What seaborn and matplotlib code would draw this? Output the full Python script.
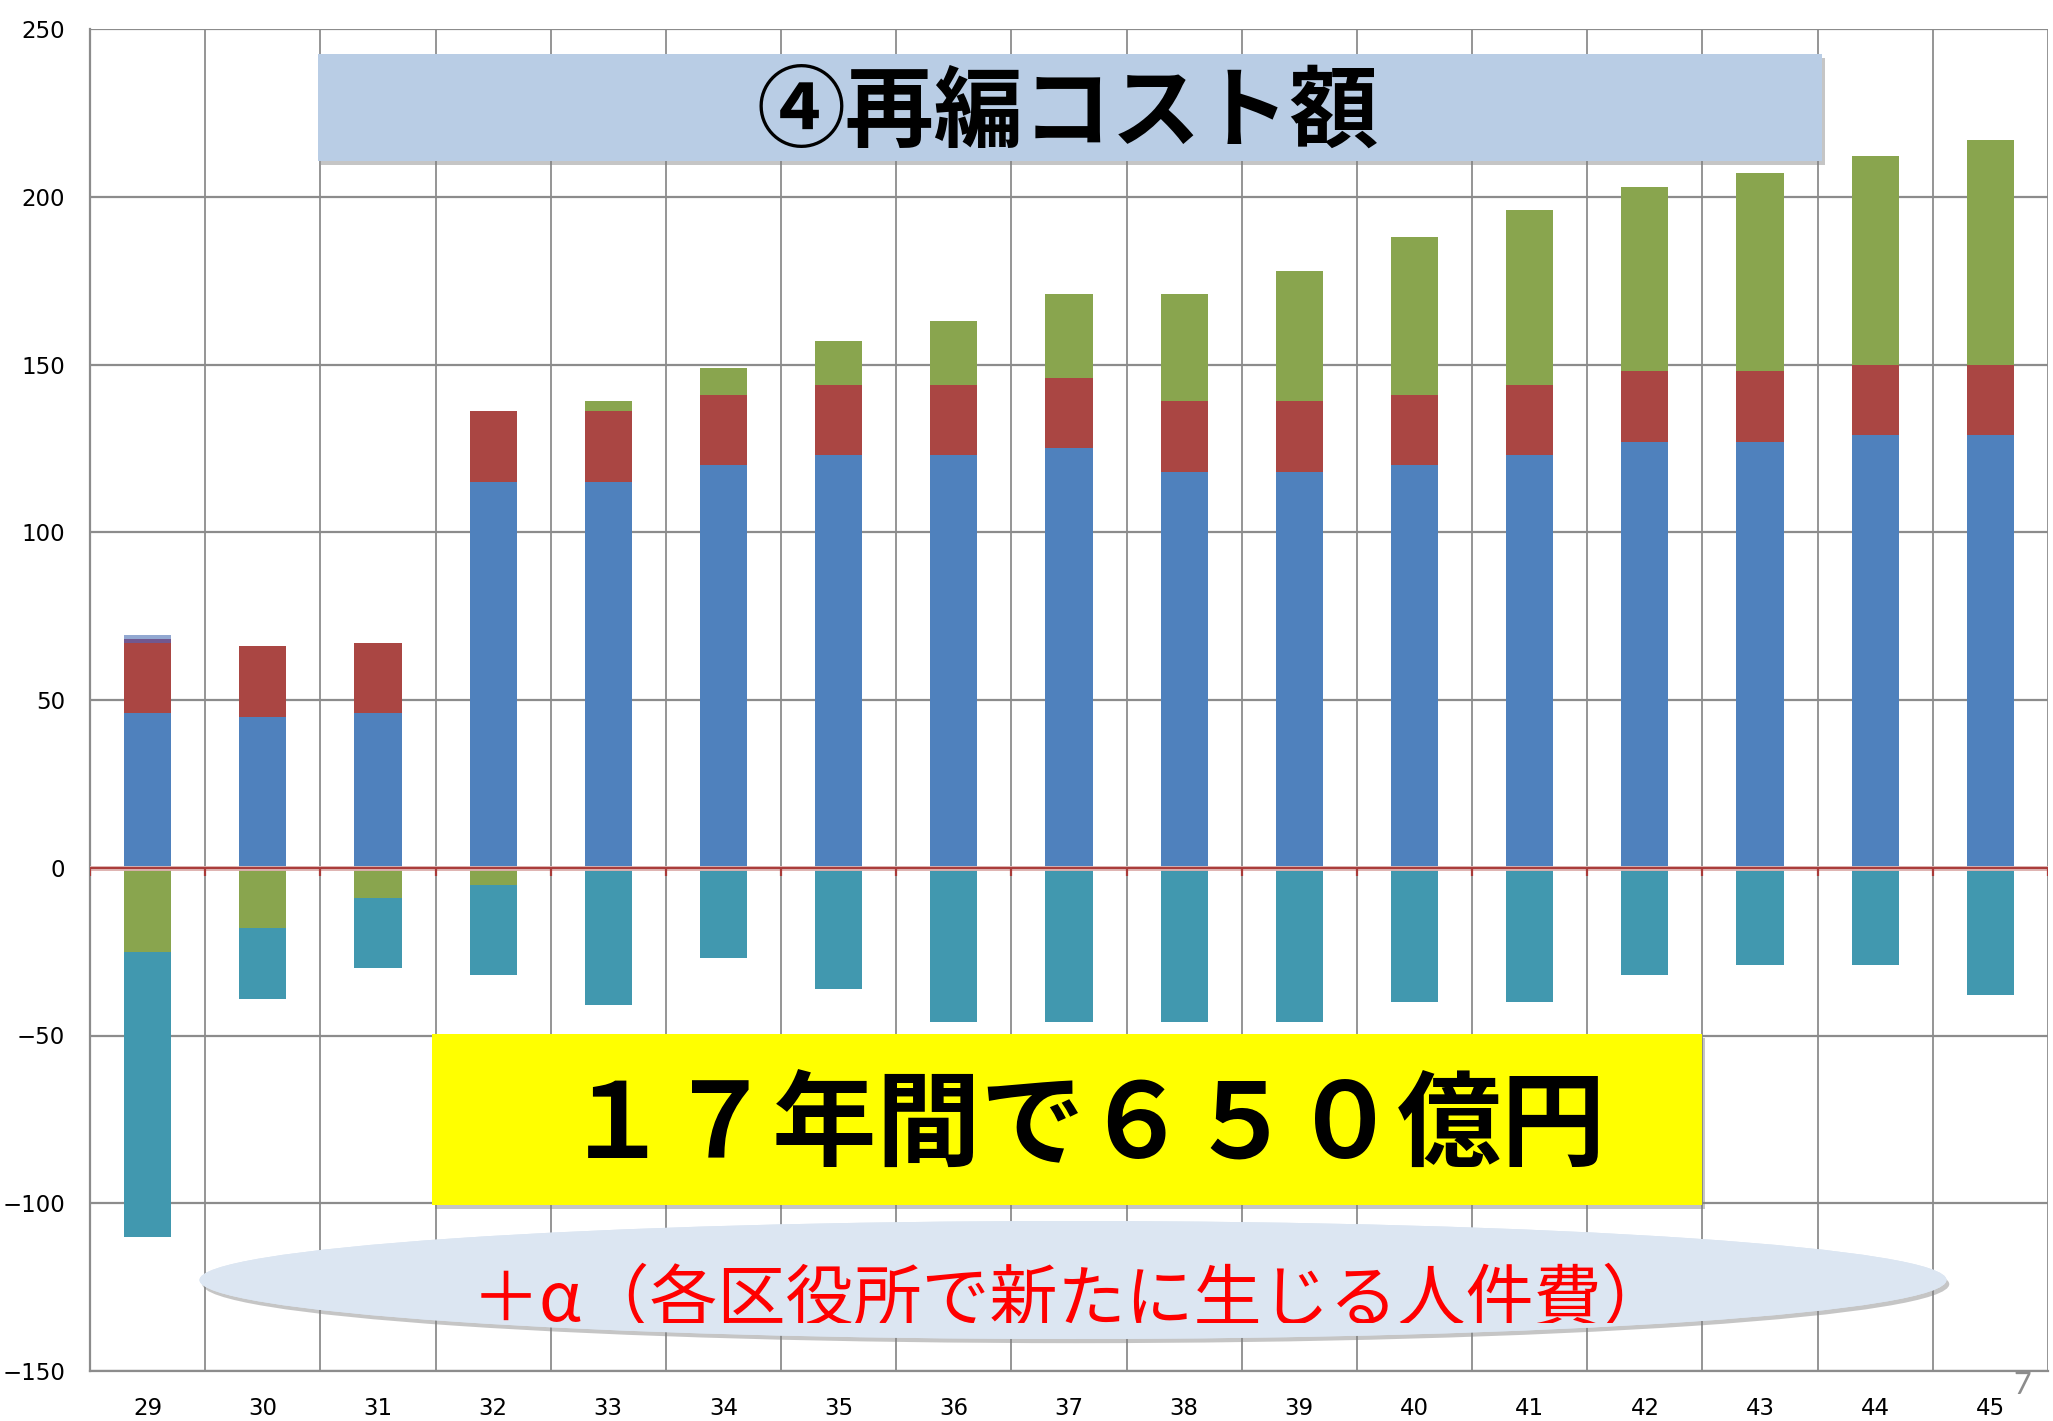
import numpy as np
import pandas as pd
import matplotlib
matplotlib.use("Agg")
import matplotlib.pyplot as plt
import matplotlib.patches as mpatches
import matplotlib.patheffects as pe
from matplotlib.transforms import Bbox, TransformedBbox
import seaborn as sns

# data (categories = year numbers on the x axis)
years = ['29', '30', '31', '32', '33', '34', '35', '36', '37', '38', '39', '40', '41', '42', '43', '44', '45']
blue = [46, 45, 46, 115, 115, 120, 123, 123, 125, 118, 118, 120, 123, 127, 127, 129, 129]
red = [21, 21, 21, 21, 21, 21, 21, 21, 21, 21, 21, 21, 21, 21, 21, 21, 21]
green = [-25, -18, -9, -5, 3, 8, 13, 19, 25, 32, 39, 47, 52, 55, 59, 62, 67]
purple = [1.2, 0, 0, 0, 0, 0, 0, 0, 0, 0, 0, 0, 0, 0, 0, 0, 0]
lavender = [1.2, 0, 0, 0, 0, 0, 0, 0, 0, 0, 0, 0, 0, 0, 0, 0, 0]
teal = [-85, -21, -21, -27, -41, -27, -36, -46, -46, -46, -46, -40, -40, -32, -29, -29, -38]

title_text = '④再編コスト額'
total_text = '１７年間で６５０億円'
note_text = '＋α（各区役所で新たに生じる人件費）'

c_blue = '#4F81BD'
c_red = '#AA4643'
c_green = '#89A54E'
c_purple = '#71588F'
c_lav = '#92A8D1'
c_teal = '#4198AF'
grid_c = '#8C8C8C'

sns.set_style("white")
plt.rcParams['font.family'] = ['DejaVu Sans']
jp = ['Noto Sans CJK JP', 'DejaVu Sans']

df = pd.DataFrame({'year': years, 'blue': blue, 'red': red, 'green': green,
                   'purple': purple, 'lavender': lavender, 'teal': teal})
df['g_pos'] = df['green'].clip(lower=0)
df['g_neg'] = df['green'].clip(upper=0)

# stacked bars drawn as cumulative totals, biggest first
pos_layers = [
    (df['blue'] + df['red'] + df['g_pos'] + df['purple'] + df['lavender'], c_lav),
    (df['blue'] + df['red'] + df['g_pos'] + df['purple'], c_purple),
    (df['blue'] + df['red'] + df['g_pos'], c_green),
    (df['blue'] + df['red'], c_red),
    (df['blue'], c_blue),
]
neg_layers = [
    (df['g_neg'] + df['teal'], c_teal),
    (df['g_neg'], c_green),
]

fig = plt.figure(figsize=(20.53, 14.21), dpi=100)
ax = fig.add_axes([90 / 2053, 1 - 1371 / 1421, 1958 / 2053, 1342 / 1421])

for vals, col in pos_layers + neg_layers:
    sns.barplot(x=df['year'], y=vals, color=col, saturation=1, width=0.41,
                errorbar=None, linewidth=0, ax=ax, zorder=3)

n = len(years)
ax.set_xlim(-0.5, n - 0.5)
ax.set_ylim(-150, 250)
ax.set_yticks(np.arange(-150, 251, 50))
ax.set_xticks(np.arange(n + 1) - 0.5, minor=True)
ax.grid(which='minor', axis='x', color=grid_c, lw=1.3, zorder=0)
ax.grid(which='major', axis='y', color=grid_c, lw=1.6, zorder=0)
ax.grid(which='major', axis='x', visible=False)
ax.set_axisbelow(True)
ax.set_xlabel('')
ax.set_ylabel('')

# red zero axis with its little ticks
ax.axhline(0, color='#DDB0AE', lw=3.5, zorder=4)
ax.axhline(0, color='#A93A38', lw=1.4, zorder=4)
ax.vlines(np.arange(n + 1) - 0.5, -2.5, 0, color='#A93A38', lw=1.6, zorder=4)

ax.tick_params(axis='x', which='both', length=0, pad=19, labelsize=16.5, labelcolor='black')
ax.tick_params(axis='y', length=6, width=1.3, color=grid_c, pad=12, labelsize=16.5, labelcolor='black')
for s in ['top', 'right']:
    ax.spines[s].set_visible(False)
for s in ['left', 'bottom']:
    ax.spines[s].set_color(grid_c)
    ax.spines[s].set_linewidth(1.6)

shadow = [pe.withSimplePatchShadow(offset=(2, -3), shadow_rgbFace='#808080', alpha=0.45), pe.Normal()]

# title box
fig.add_artist(mpatches.Rectangle((318 / 2053, 1 - 161 / 1421), 1504 / 2053, 107 / 1421,
                                  transform=fig.transFigure, facecolor='#B9CDE5', edgecolor='none',
                                  zorder=5, path_effects=shadow))
fig.text(1068 / 2053, 1 - 114 / 1421, title_text, fontsize=64, fontweight='bold', family=jp,
         ha='center', va='center', color='black', zorder=6)

# yellow box
fig.add_artist(mpatches.Rectangle((432 / 2053, 1 - 1205 / 1421), 1270 / 2053, 171 / 1421,
                                  transform=fig.transFigure, facecolor='#FFFF00', edgecolor='none',
                                  zorder=5, path_effects=shadow))
fig.text(1085 / 2053, 1 - 1128 / 1421, total_text, fontsize=75, fontweight='bold', family=jp,
         ha='center', va='center', color='black', zorder=6)

# ellipse with red note
fig.add_artist(mpatches.Ellipse((1073 / 2053, 1 - 1280 / 1421), 1747 / 2053, 118 / 1421,
                                transform=fig.transFigure, facecolor='#DCE6F2', edgecolor='none',
                                zorder=5, path_effects=shadow))
t = fig.text(1071 / 2053, 1 - 1301 / 1421, note_text, fontsize=49, family=jp,
             ha='center', va='center', color='#FF0000', zorder=6)
t.set_clip_box(TransformedBbox(Bbox([[0, 1 - 1323 / 1421], [1, 1]]), fig.transFigure))
t.set_clip_on(True)

# page number
fig.text(2022 / 2053, 1 - 1385 / 1421, '7', fontsize=22, family=['Lato', 'DejaVu Sans'],
         color='#8C8C8C', ha='center', va='center')

fig.savefig('out.png', dpi=100)
